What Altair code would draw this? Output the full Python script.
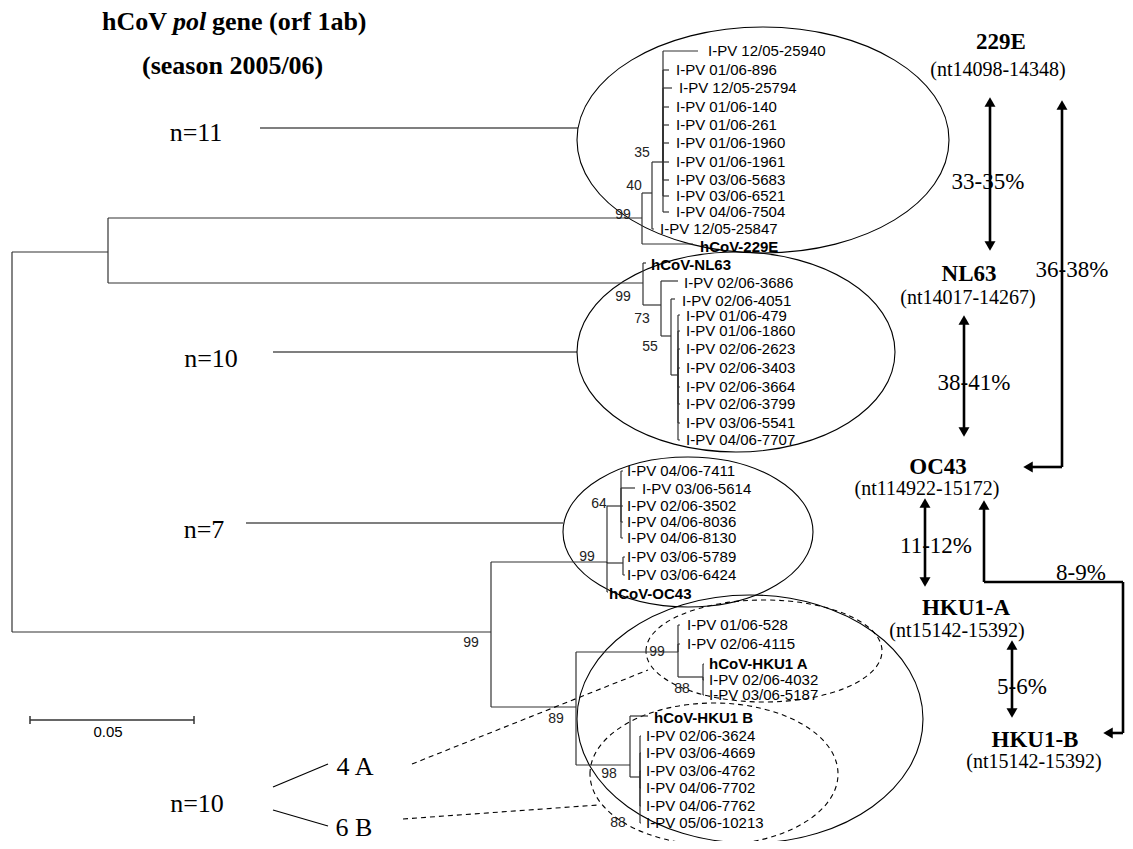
import altair as alt
import pandas as pd

# ---------------- tree: internal nodes (canvas px) ----------------
node_id = ["root", "A", "B", "C229", "N40", "N35", "CNL", "N73", "N55", "N55b",
           "OC", "N64", "NP", "H", "HA", "N88A", "HB", "N88B"]
node_parent = [None, "root", "root", "A", "C229", "N40", "A", "CNL", "N73", "N55",
               "B", "OC", "OC", "B", "H", "HA", "H", "HB"]
node_x = [12, 108, 491, 642, 652, 663, 643, 661, 671, 678, 607, 621, 623, 576, 678, 703, 630, 640]
node_y = [252, 252, 632, 218, 193, 162, 283, 305, 336, 375, 562, 506, 563, 707, 652, 677, 765, 777]

# ---------------- tree: leaves ----------------
leaf_label = [
    "I-PV 12/05-25940", "I-PV 01/06-896", "I-PV 12/05-25794", "I-PV 01/06-140", "I-PV 01/06-261",
    "I-PV 01/06-1960", "I-PV 01/06-1961", "I-PV 03/06-5683", "I-PV 03/06-6521", "I-PV 04/06-7504",
    "I-PV 12/05-25847", "hCoV-229E",
    "hCoV-NL63", "I-PV 02/06-3686", "I-PV 02/06-4051", "I-PV 01/06-479", "I-PV 01/06-1860",
    "I-PV 02/06-2623", "I-PV 02/06-3403", "I-PV 02/06-3664", "I-PV 02/06-3799", "I-PV 03/06-5541",
    "I-PV 04/06-7707",
    "I-PV 04/06-7411", "I-PV 03/06-5614", "I-PV 02/06-3502", "I-PV 04/06-8036", "I-PV 04/06-8130",
    "I-PV 03/06-5789", "I-PV 03/06-6424", "hCoV-OC43",
    "I-PV 01/06-528", "I-PV 02/06-4115", "hCoV-HKU1 A", "I-PV 02/06-4032", "I-PV 03/06-5187",
    "hCoV-HKU1 B", "I-PV 02/06-3624", "I-PV 03/06-4669", "I-PV 03/06-4762", "I-PV 04/06-7702",
    "I-PV 04/06-7762", "I-PV 05/06-10213",
]
leaf_parent = (["N35"] * 10 + ["N40", "C229"] +
               ["CNL", "N73", "N55"] + ["N55b"] * 8 +
               ["N64"] * 5 + ["NP", "NP", "OC"] +
               ["HA", "HA", "N88A", "N88A", "N88A"] +
               ["HB"] + ["N88B"] * 6)
leaf_x = ([698, 669, 672, 669, 669, 669, 669, 669, 669, 669, 654, 693] +
          [646, 678, 675] + [680] * 8 +
          [623, 635, 623, 623, 623, 625, 625, 608] +
          [680, 680, 704, 704, 704] +
          [648] + [641] * 6)
leaf_y = ([51, 70, 88, 107, 125, 143, 162, 180, 196, 212, 229, 244] +
          [263, 281, 299, 315, 331, 349, 368, 387, 404, 423, 440] +
          [471, 488, 506, 522, 538, 557, 575, 592] +
          [625, 644, 664, 680, 695] +
          [716, 736, 753, 771, 788, 806, 823])
leaf_text_x = ([708, 676, 679, 676, 676, 676, 676, 676, 676, 676, 660, 700] +
               [651, 684, 682] + [686] * 8 +
               [627, 642, 627, 627, 627, 627, 627, 609] +
               [687, 687, 709, 709, 709] +
               [654] + [646] * 6)
leaf_text_y = ([51, 70, 88, 107, 125, 143, 162, 180, 196, 212, 229, 247] +
               [265, 283, 301, 316, 331, 349, 368, 387, 404, 423, 440] +
               [471, 489, 506, 522, 538, 557, 575, 594] +
               [625, 644, 664, 680, 695] +
               [718, 736, 753, 771, 788, 806, 823])

# ---------------- bootstrap values ----------------
boot_text = ["35", "40", "99", "99", "73", "55", "64", "99", "99", "89", "99", "88", "98", "88"]
boot_x = [642, 634, 623, 623, 642, 650, 599, 587, 471, 556, 657, 682, 609, 618]
boot_y = [153, 186, 215, 297, 319, 347, 504, 557, 643, 719, 652, 689, 774, 823]

# ---------------- cluster ellipses ----------------
ell_id = ["E229", "ENL", "EOC", "EHKU", "DA", "DB"]
ell_cx = [763, 736, 688, 750, 764, 714]
ell_cy = [140, 352, 532, 719, 651, 774]
ell_rx = [186, 159, 125, 173, 118, 124]
ell_ry = [113, 100, 75, 124, 51, 71]
ell_dashed = [False, False, False, False, True, True]

# ---------------- group labels and pointer lines ----------------
grp_text = ["n=11", "n=10", "n=7", "n=10", "4 A", "6 B"]
grp_x = [196, 211, 204, 197, 355, 354]
grp_y = [133, 359, 530, 804, 767, 828]
ptr_x1 = [260, 273, 246, 273, 273]
ptr_y1 = [128, 352, 523, 787, 810]
ptr_x2 = [578, 577, 563, 328, 328]
ptr_y2 = [128, 352, 523, 764, 826]
dash_x1 = [412, 403]
dash_y1 = [764, 819]
dash_x2 = [648, 598]
dash_y2 = [670, 805]

# ---------------- right-hand annotation ----------------
virus_name = ["229E", "NL63", "OC43", "HKU1-A", "HKU1-B"]
virus_x = [1001, 969, 938, 966, 1035]
virus_y = [42, 274, 467, 608, 740]
region_text = ["(nt14098-14348)", "(nt14017-14267)", "(nt114922-15172)", "(nt15142-15392)", "(nt15142-15392)"]
region_x = [998, 968, 927, 957, 1034]
region_y = [70, 298, 489, 631, 762]
pct_text = ["33-35%", "36-38%", "38-41%", "11-12%", "8-9%", "5-6%"]
pct_x = [988, 1072, 974, 936, 1081, 1022]
pct_y = [182, 270, 383, 546, 573, 687]
arr_x1 = [990, 1062, 1030, 964, 925, 984, 984, 1123, 1108, 1012]
arr_y1 = [102, 105, 467, 320, 503, 505, 582, 582, 733, 645]
arr_x2 = [990, 1062, 1062, 964, 925, 984, 1123, 1123, 1123, 1012]
arr_y2 = [246, 467, 467, 432, 582, 582, 582, 733, 733, 713]
head_x = [990, 990, 1062, 1028, 964, 964, 925, 925, 984, 1108, 1012, 1012]
head_y = [102, 246, 105, 467, 320, 432, 503, 582, 505, 733, 645, 713]
head_dir = ["up", "down", "up", "left", "up", "down", "up", "down", "up", "left", "up", "down"]

# ---------------- scale bar ----------------
bar_x1 = [30, 30, 194]
bar_y1 = [720, 716, 716]
bar_x2 = [194, 30, 194]
bar_y2 = [720, 724, 724]
bar_label = ["0.05"]

# ---------------- build tables ----------------
pos = {n: (x, y) for n, x, y in zip(node_id, node_x, node_y)}
segs = []
for n, p, x, y in zip(node_id, node_parent, node_x, node_y):
    if p is None:
        continue
    px, py = pos[p]
    segs.append((px, py, px, y))
    segs.append((px, y, x, y))
for p, x, y in zip(leaf_parent, leaf_x, leaf_y):
    px, py = pos[p]
    segs.append((px, py, px, y))
    segs.append((px, y, x, y))
tree_df = pd.DataFrame(segs, columns=["x", "y", "x2", "y2"])

XS = alt.Scale(domain=[8, 1125], nice=False, zero=False)
YS = alt.Scale(domain=[8, 841], nice=False, zero=False, reverse=True)


def enc_pt(f="x", g="y"):
    return dict(x=alt.X(f"{f}:Q", scale=XS, axis=None), y=alt.Y(f"{g}:Q", scale=YS, axis=None))


def enc_rule():
    d = enc_pt()
    d["x2"] = alt.X2("x2:Q")
    d["y2"] = alt.Y2("y2:Q")
    return d


def rules(df, **kw):
    return alt.Chart(df).mark_rule(**kw).encode(**enc_rule())


def texts(df, **kw):
    base = dict(align="left", baseline="middle", color="black")
    base.update(kw)
    return alt.Chart(df).mark_text(**base).encode(text="t:N", **enc_pt())


SERIF = "Liberation Serif"
SANS = "Liberation Sans"

tree = rules(tree_df, color="#333333", strokeWidth=1.2)

is_ref = [lab.startswith("hCoV") for lab in leaf_label]
leaf_df = pd.DataFrame({"t": leaf_label, "x": leaf_text_x, "y": leaf_text_y, "ref": is_ref})
leaf_plain = texts(leaf_df[~leaf_df.ref], font=SANS, fontSize=15)
leaf_bold = texts(leaf_df[leaf_df.ref], font=SANS, fontSize=15, fontWeight="bold")

boot = texts(pd.DataFrame({"t": boot_text, "x": boot_x, "y": boot_y}),
             font=SANS, fontSize=14, align="center", color="#222222")

# ellipses as custom symbol paths
paths = []
for rx, ry in zip(ell_rx, ell_ry):
    k = ry / rx
    paths.append(f"M-1,0A1,{k:.4f},0,1,1,1,0A1,{k:.4f},0,1,1,-1,0Z")
ell_df = pd.DataFrame({"id": ell_id, "x": ell_cx, "y": ell_cy,
                       "size": [(2 * r) ** 2 for r in ell_rx], "dashed": ell_dashed})
shape_scale = alt.Scale(domain=ell_id, range=paths)


def ellipses(df, dash):
    kw = dict(filled=False, color="black", strokeWidth=1.1, opacity=1)
    if dash:
        kw["strokeDash"] = [5, 4]
    return alt.Chart(df).mark_point(**kw).encode(
        size=alt.Size("size:Q", scale=None),
        shape=alt.Shape("id:N", scale=shape_scale, legend=None),
        **enc_pt())


ell_solid = ellipses(ell_df[~ell_df.dashed], False)
ell_dash = ellipses(ell_df[ell_df.dashed], True)

grp = texts(pd.DataFrame({"t": grp_text, "x": grp_x, "y": grp_y}),
            font=SERIF, fontSize=26, align="center")
ptr = rules(pd.DataFrame({"x": ptr_x1, "y": ptr_y1, "x2": ptr_x2, "y2": ptr_y2}),
            color="black", strokeWidth=1.2)
dash_lines = rules(pd.DataFrame({"x": dash_x1, "y": dash_y1, "x2": dash_x2, "y2": dash_y2}),
                   color="black", strokeWidth=1.1, strokeDash=[5, 4])

title_df1 = pd.DataFrame({"t": ["hCoV", "gene (orf 1ab)"], "x": [102, 212], "y": [30, 30]})
title_df2 = pd.DataFrame({"t": ["pol"], "x": [173], "y": [30]})
title_df3 = pd.DataFrame({"t": ["(season 2005/06)"], "x": [142], "y": [74]})
title1 = texts(title_df1, font=SERIF, fontSize=26, fontWeight="bold", baseline="alphabetic")
title2 = texts(title_df2, font=SERIF, fontSize=26, fontWeight="bold", fontStyle="italic",
               baseline="alphabetic")
title3 = texts(title_df3, font=SERIF, fontSize=26, fontWeight="bold", baseline="alphabetic")

virus = texts(pd.DataFrame({"t": virus_name, "x": virus_x, "y": virus_y}),
              font=SERIF, fontSize=23, fontWeight="bold", align="center")
region = texts(pd.DataFrame({"t": region_text, "x": region_x, "y": region_y}),
               font=SERIF, fontSize=20, align="center")
pct = texts(pd.DataFrame({"t": pct_text, "x": pct_x, "y": pct_y}),
            font=SERIF, fontSize=23, align="center")
arrows = rules(pd.DataFrame({"x": arr_x1, "y": arr_y1, "x2": arr_x2, "y2": arr_y2}),
               color="black", strokeWidth=2.6)

head_df = pd.DataFrame({"x": head_x, "y": head_y, "dir": head_dir})
head_shape = {"up": "triangle-up", "down": "triangle-down", "left": "triangle-left"}
head_layers = [
    alt.Chart(head_df[head_df.dir == d]).mark_point(
        filled=True, color="black", opacity=1, size=120, shape=s).encode(**enc_pt())
    for d, s in head_shape.items()
]

bar = rules(pd.DataFrame({"x": bar_x1, "y": bar_y1, "x2": bar_x2, "y2": bar_y2}),
            color="#333333", strokeWidth=1.5)
bar_txt = texts(pd.DataFrame({"t": bar_label, "x": [108], "y": [732]}),
                font=SANS, fontSize=15, align="center")

chart = alt.layer(
    ell_solid, ell_dash, tree, ptr, dash_lines, arrows, *head_layers, bar,
    leaf_plain, leaf_bold, boot, grp, title1, title2, title3, virus, region, pct, bar_txt,
).resolve_scale(
    shape="independent", size="independent"
).properties(
    width=1117, height=833, padding=0, background="white",
    autosize=alt.AutoSizeParams(type="none"),
).configure_view(stroke=None)

chart.save("out.html", embed_options={"renderer": "svg", "actions": False})
